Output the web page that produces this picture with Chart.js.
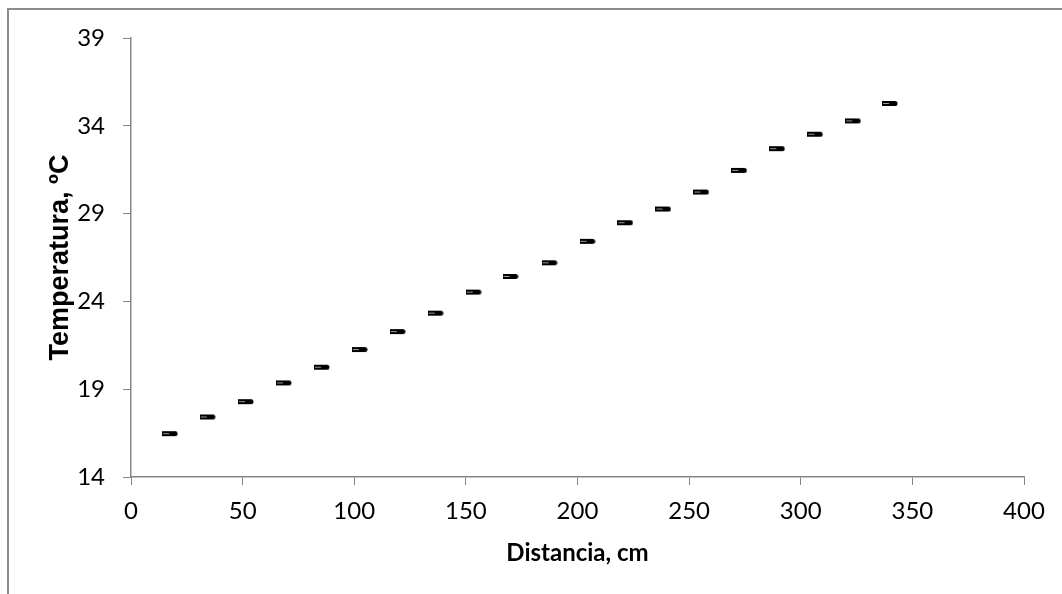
<!DOCTYPE html>
<html>
<head>
    <title>Temperatura vs Distancia</title>
    <script src="https://cdn.jsdelivr.net/npm/chart.js"></script>
    <style>
        html, body {
            margin: 0;
            padding: 0;
            background: #ffffff;
            overflow: hidden;
        }
        .frame {
            position: absolute;
            left: 7px;
            top: 8px;
            width: 2000px;
            height: 2000px;
            border-left: 2px solid #8c8c8c;
            border-top: 2px solid #8c8c8c;
        }
        canvas {
            position: absolute;
            left: 0;
            top: 0;
        }
    </style>
</head>
<body>
    <div class="frame"></div>
    <canvas id="tempChart" width="1062" height="594"></canvas>

    <script>
        // Values
        const distancia = [17.5, 34.4, 51.5, 68.5, 85.5, 102.5, 119.5, 136.5, 153.5, 170,
                           187.5, 204.5, 221.5, 238.5, 255.5, 272.5, 289.5, 306.5, 323.5, 340];
        const temperatura = [16.47, 17.42, 18.29, 19.36, 20.25, 21.26, 22.28, 23.33, 24.53, 25.42,
                             26.20, 27.42, 28.48, 29.26, 30.23, 31.46, 32.70, 33.52, 34.28, 35.27];

        const xTitle = 'Distancia, cm';
        const yTitle = 'Temperatura, ºC';

        // Small marker: solid dash with a faint stripe on its left half
        function makeMarker() {
            const c = document.createElement('canvas');
            c.width = 16;
            c.height = 7;
            const g = c.getContext('2d');
            g.fillStyle = '#000000';
            g.fillRect(0, 1, 13, 5);
            g.beginPath();
            g.arc(13, 3.5, 2.5, -Math.PI / 2, Math.PI / 2);
            g.fill();
            g.fillStyle = '#9a9a9a';
            g.fillRect(1, 3, 6, 1);
            return c;
        }

        const axisColor = '#868686';
        const tickFont = { family: 'Lato', size: 24 };

        const ctx = document.getElementById('tempChart').getContext('2d');
        new Chart(ctx, {
            type: 'scatter',
            data: {
                datasets: [{
                    label: yTitle,
                    data: distancia.map((d, i) => ({ x: d, y: temperatura[i] })),
                    pointStyle: makeMarker(),
                    pointRadius: 7,
                    showLine: false
                }]
            },
            options: {
                responsive: false,
                animation: false,
                layout: {
                    padding: { left: 0, right: 38, top: 38, bottom: 0 }
                },
                plugins: {
                    legend: { display: false },
                    tooltip: { enabled: false }
                },
                scales: {
                    x: {
                        type: 'linear',
                        min: 0,
                        max: 400,
                        ticks: {
                            stepSize: 50,
                            color: '#000000',
                            font: tickFont,
                            padding: 12,
                            maxRotation: 0
                        },
                        grid: {
                            drawOnChartArea: false,
                            drawTicks: true,
                            tickLength: 8,
                            color: axisColor
                        },
                        border: { display: true, color: axisColor, width: 1.5 },
                        title: {
                            display: true,
                            text: xTitle,
                            color: '#000000',
                            font: { family: 'Lato', size: 24, weight: 'bold' },
                            padding: { top: 0, bottom: 26 }
                        },
                        afterFit: function (scale) {
                            scale.height = 117;
                        }
                    },
                    y: {
                        type: 'linear',
                        min: 14,
                        max: 39,
                        ticks: {
                            stepSize: 5,
                            color: '#000000',
                            font: tickFont,
                            padding: 18
                        },
                        grid: {
                            drawOnChartArea: false,
                            drawTicks: true,
                            tickLength: 8,
                            color: axisColor
                        },
                        border: { display: true, color: axisColor, width: 1.5 },
                        title: {
                            display: true,
                            text: yTitle,
                            color: '#000000',
                            font: { family: 'Liberation Sans', size: 27, weight: 'bold' },
                            padding: { top: 44, bottom: 0 }
                        },
                        afterFit: function (scale) {
                            scale.width = 131;
                        }
                    }
                }
            }
        });
    </script>
</body>
</html>
